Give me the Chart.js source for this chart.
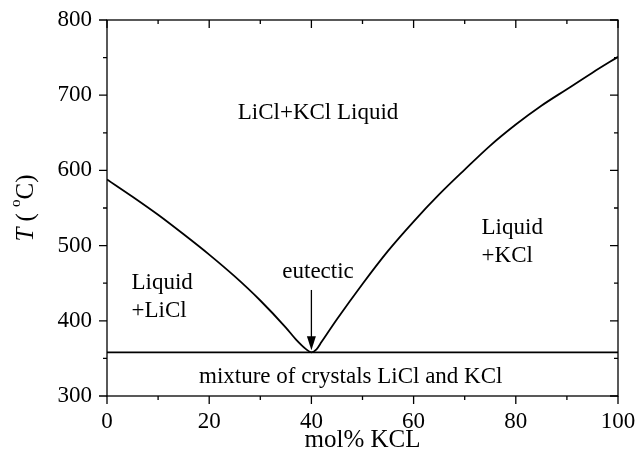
<!DOCTYPE html>
<html>
<head>
<meta charset="utf-8">
<script src="https://cdn.jsdelivr.net/npm/chart.js@4/dist/chart.umd.min.js"></script>
<style>
  html, body { margin: 0; padding: 0; background: #fff; }
  #wrap { width: 638px; height: 466px; }
</style>
</head>
<body>
<div id="wrap"><canvas id="phase" width="638" height="466"></canvas></div>
<script>
// LiCl–KCl binary phase diagram: liquidus curve and eutectic isotherm
const compositionKCl = [0, 5, 10, 15, 20, 25, 30, 35, 37, 39, 40, 41, 42, 45, 50, 55, 60, 65, 70, 75, 80, 85, 90, 95, 100];
const liquidusTemp   = [588, 565, 541, 515, 488, 459, 427, 391, 375, 362, 358, 362, 372, 402, 449, 493, 532, 568, 601, 633, 661, 686, 708, 730, 751];
const eutecticX      = [0, 100];
const eutecticTemp   = [358, 358];
const eutecticPoint  = { x: 40, t: 358 };
const xTickValues    = [0, 20, 40, 60, 80, 100];
const yTickValues    = [300, 400, 500, 600, 700, 800];

const FONT = '"Liberation Serif", "Times New Roman", serif';

// Region labels in data coordinates
const regionLabels = [
  { text: 'LiCl+KCl Liquid', x: 41.3, t: 668, align: 'center' },
  { text: 'Liquid', x: 4.8, t: 442, align: 'left' },
  { text: '+LiCl', x: 4.8, t: 405.5, align: 'left' },
  { text: 'eutectic', x: 41.3, t: 457, align: 'center' },
  { text: 'Liquid', x: 73.3, t: 515, align: 'left' },
  { text: '+KCl', x: 73.3, t: 478, align: 'left' },
  { text: 'mixture of crystals LiCl and KCl', x: 47.7, t: 317, align: 'center' }
];

const toPoints = (xs, ys) => xs.map((x, i) => ({ x: x, y: ys[i] }));

// keep the plot area fixed: no extra room reserved for overhanging tick labels
const fixPadding = s => { s.paddingLeft = 0; s.paddingRight = 0; s.paddingTop = 0; s.paddingBottom = 0; };

const framePlugin = {
  id: 'frameAndNotes',
  afterDatasetsDraw(chart) {
    const ctx = chart.ctx;
    const xs = chart.scales.x, ys = chart.scales.y;
    const a = chart.chartArea;
    ctx.save();
    ctx.strokeStyle = '#000';
    ctx.fillStyle = '#000';
    ctx.lineWidth = 1.3;
    // frame
    ctx.strokeRect(a.left, a.top, a.right - a.left, a.bottom - a.top);
    // x ticks: outward at bottom, inward at top
    ctx.beginPath();
    for (let v = 0; v <= 100; v += 10) {
      const px = xs.getPixelForValue(v);
      const len = (v % 20 === 0) ? 8 : 4;
      ctx.moveTo(px, a.bottom); ctx.lineTo(px, a.bottom + len);
      ctx.moveTo(px, a.top); ctx.lineTo(px, a.top + len);
    }
    // y ticks: outward at left, inward at right
    for (let v = 300; v <= 800; v += 50) {
      const py = ys.getPixelForValue(v);
      const len = (v % 100 === 0) ? 8 : 4;
      ctx.moveTo(a.left - len, py); ctx.lineTo(a.left, py);
      ctx.moveTo(a.right - len, py); ctx.lineTo(a.right, py);
    }
    ctx.stroke();

    // arrow pointing at the eutectic point
    const ax = xs.getPixelForValue(eutecticPoint.x);
    const ay0 = ys.getPixelForValue(441);
    const ay1 = ys.getPixelForValue(eutecticPoint.t + 3);
    ctx.lineWidth = 1.3;
    ctx.beginPath();
    ctx.moveTo(ax, ay0); ctx.lineTo(ax, ay1 - 10);
    ctx.stroke();
    ctx.beginPath();
    ctx.moveTo(ax, ay1);
    ctx.lineTo(ax - 4.5, ay1 - 14);
    ctx.lineTo(ax + 4.5, ay1 - 14);
    ctx.closePath();
    ctx.fill();

    // region labels
    ctx.font = '23px ' + FONT;
    ctx.textBaseline = 'alphabetic';
    regionLabels.forEach(l => {
      ctx.textAlign = l.align;
      ctx.fillText(l.text, xs.getPixelForValue(l.x), ys.getPixelForValue(l.t));
    });

    // x axis title
    ctx.textAlign = 'center';
    ctx.textBaseline = 'middle';
    ctx.font = '25px ' + FONT;
    ctx.fillText('mol% KCL', (a.left + a.right) / 2, 440);

    // y axis title: italic T, then ( °C)
    ctx.translate(25, (a.top + a.bottom) / 2);
    ctx.rotate(-Math.PI / 2);
    const parts = [
      { s: 'T', f: 'italic 25px ' + FONT, dy: 0 },
      { s: ' ( ', f: '25px ' + FONT, dy: 0 },
      { s: 'o', f: '15px ' + FONT, dy: -10 },
      { s: 'C)', f: '25px ' + FONT, dy: 0 }
    ];
    let total = 0;
    parts.forEach(p => { ctx.font = p.f; p.w = ctx.measureText(p.s).width; total += p.w; });
    let cx = -total / 2;
    ctx.textAlign = 'left';
    ctx.textBaseline = 'middle';
    parts.forEach(p => { ctx.font = p.f; ctx.fillText(p.s, cx, 1 + p.dy); cx += p.w; });
    ctx.restore();
  }
};

new Chart(document.getElementById('phase'), {
  type: 'scatter',
  data: {
    datasets: [
      {
        label: 'Liquidus',
        data: toPoints(compositionKCl, liquidusTemp),
        showLine: true,
        borderColor: '#000',
        borderWidth: 1.8,
        pointRadius: 0,
        cubicInterpolationMode: 'monotone',
        fill: false
      },
      {
        label: 'Eutectic',
        data: toPoints(eutecticX, eutecticTemp),
        showLine: true,
        borderColor: '#000',
        borderWidth: 1.8,
        pointRadius: 0,
        fill: false
      }
    ]
  },
  options: {
    responsive: false,
    devicePixelRatio: 1,
    animation: false,
    layout: { padding: { top: 20, right: 20, left: 0, bottom: 0 } },
    plugins: { legend: { display: false }, tooltip: { enabled: false } },
    scales: {
      x: {
        type: 'linear',
        min: 0, max: 100,
        afterFit: s => { s.height = 70; fixPadding(s); },
        afterBuildTicks: s => { s.ticks = xTickValues.map(v => ({ value: v })); },
        grid: { display: false, drawTicks: false },
        border: { display: false },
        ticks: { color: '#000', font: { family: FONT, size: 23 }, padding: 12, maxRotation: 0 }
      },
      y: {
        type: 'linear',
        min: 300, max: 800,
        afterFit: s => { s.width = 107; fixPadding(s); },
        afterBuildTicks: s => { s.ticks = yTickValues.map(v => ({ value: v })); },
        grid: { display: false, drawTicks: false },
        border: { display: false },
        ticks: { color: '#000', font: { family: FONT, size: 23 }, padding: 15 }
      }
    }
  },
  plugins: [framePlugin]
});
</script>
</body>
</html>
